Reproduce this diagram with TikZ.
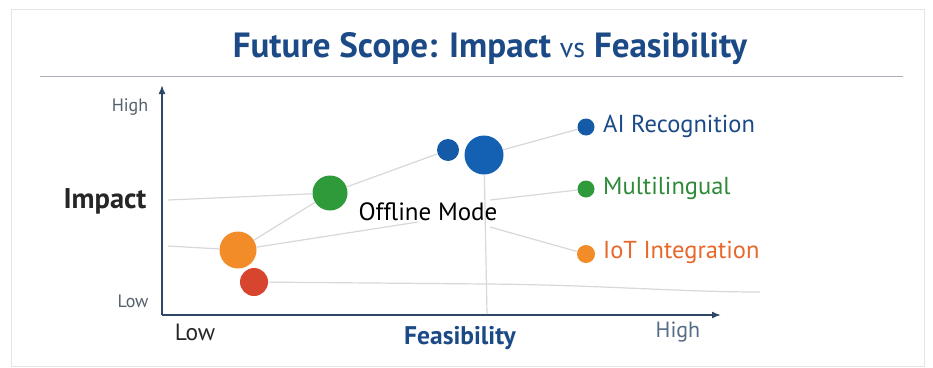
\documentclass[tikz,border=0pt]{standalone}
\usepackage{fontspec}
\setmainfont{PT Sans}
\usetikzlibrary{arrows.meta}
\definecolor{titleblue}{HTML}{1B4A86}
\definecolor{axiscol}{HTML}{2C4866}
\definecolor{dotblue}{HTML}{1461B4}
\definecolor{dotdblue}{HTML}{155AA6}
\definecolor{dotgreen}{HTML}{2E9A3A}
\definecolor{dotorange}{HTML}{F28C28}
\definecolor{dotred}{HTML}{D8452F}
\definecolor{linkgray}{HTML}{D6D8DB}
\definecolor{framegray}{HTML}{E2E4E6}
\definecolor{rulegray}{HTML}{A9B0B8}
\definecolor{txtgray}{HTML}{55606B}
\definecolor{iotcol}{HTML}{E8672A}
\definecolor{multicol}{HTML}{2E8A38}
\tikzset{
  bubble/.style={circle, inner sep=0pt, draw=none},
  link/.style={draw=linkgray, line width=1.2pt},
  axisline/.style={draw=axiscol, line width=1.6pt, -{Latex[length=9pt,width=7pt]}},
  legtxt/.style={anchor=west, font=\fontsize{24.5}{27}\selectfont, inner sep=0pt},
}
\begin{document}
\begin{tikzpicture}[x=1pt,y=-1pt]
\useasboundingbox (0,0) rectangle (933,367);
\fill[white] (0,0) rectangle (933,367);
\draw[framegray, line width=1pt] (11,9) rectangle (924,366);
% title
\node[text=titleblue, font=\fontsize{35}{38}\selectfont\bfseries] (title) at (490,49)
  {Future Scope: Impact {\mdseries\fontsize{28}{31}\selectfont vs} Feasibility};
\coordinate (rulel) at (40,76);
\coordinate (ruler) at (903,76);
\draw[rulegray, line width=1pt] (rulel) -- (ruler);
% axes
\coordinate (origin) at (162,315);
\coordinate (ytop) at (162,85);
\coordinate (xend) at (721,315);
\draw[axisline] (origin) -- (ytop);
\draw[axisline] (origin) -- (xend);
% axis labels
\node[text=txtgray, font=\fontsize{18}{21}\selectfont] (yhigh) at (130,107) {High};
\node[text=txtgray, font=\fontsize{18}{21}\selectfont] (ylow) at (133,301) {Low};
\node[text=black!85, font=\fontsize{28.5}{31}\selectfont\bfseries] (ylab) at (105,201) {Impact};
\node[text=black!85, font=\fontsize{23.5}{26}\selectfont] (xlow) at (195,332) {Low};
\node[text=titleblue, font=\fontsize{25.5}{28}\selectfont\bfseries] (xlab) at (460,338) {Feasibility};
\node[text=axiscol!80, font=\fontsize{22}{25}\selectfont] (xhigh) at (678,332) {High};
% bubbles
\node[bubble, fill=dotdblue, minimum size=22pt] (bsmall) at (448,150) {};
\node[bubble, fill=dotblue, minimum size=39pt] (bbig) at (484,155) {};
\node[bubble, fill=dotgreen, minimum size=35pt] (green) at (330,193) {};
\node[bubble, fill=dotorange, minimum size=37pt] (orange) at (238,250) {};
\node[bubble, fill=dotred, minimum size=28pt] (red) at (254,282) {};
% legend dots
\node[bubble, fill=dotdblue, minimum size=17pt] (aidot) at (586,127) {};
\node[bubble, fill=dotgreen, minimum size=17pt] (multidot) at (586,189) {};
\node[bubble, fill=dotorange, minimum size=18pt] (iotdot) at (586,254) {};
\node[legtxt, text=titleblue] (ailab) at (603,126) {AI Recognition};
\node[legtxt, text=multicol] (multilab) at (603,188) {Multilingual};
\node[legtxt, text=iotcol] (iotlab) at (603,252) {IoT Integration};
% helper coordinates
\coordinate (ya) at (168,200);
\coordinate (yb) at (168,246);
\coordinate (offend) at (418,222);
\coordinate (vbase) at (487,314);
\coordinate (vm) at (490,200);
\coordinate (vi) at (490,227);
\coordinate (redmid) at (487,284);
\coordinate (redend) at (760,292);
% links
\draw[link] (ya) -- (green);
\draw[link] (yb) -- (orange);
\draw[link] (orange) -- (green);
\draw[link] (green) -- (bsmall);
\draw[link] (orange) -- (offend);
\draw[link] (bbig) -- (aidot);
\draw[link] (bbig) -- (vbase);
\draw[link] (vm) -- (multidot);
\draw[link] (vi) -- (iotdot);
\draw[link] (red) -- (redmid) .. controls (600,285) and (680,292) .. (redend);
\node[text=black, font=\fontsize{25}{28}\selectfont] (offline) at (428,212) {Offline Mode};
\end{tikzpicture}
\end{document}
